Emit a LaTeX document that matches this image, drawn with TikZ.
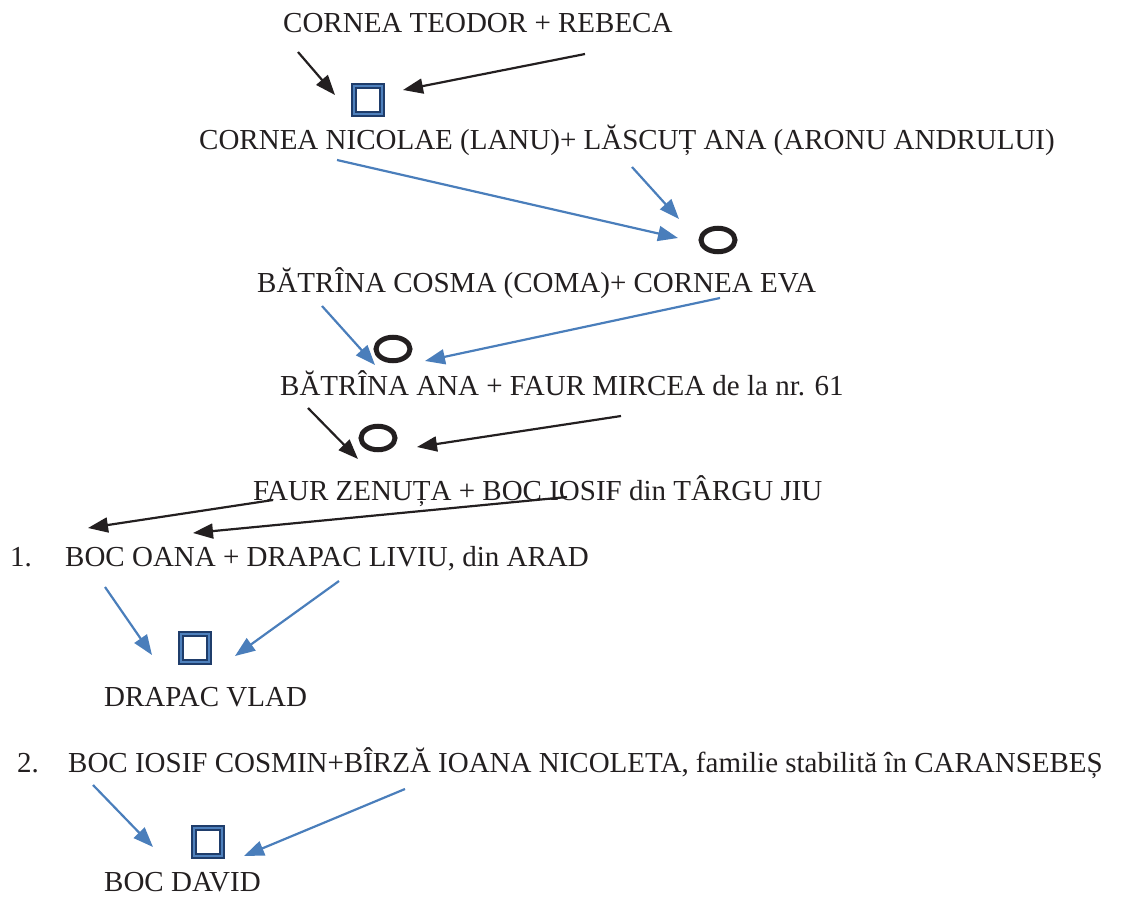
\documentclass[tikz,border=0pt]{standalone}
\usepackage{fontspec}
\setmainfont{Liberation Serif}
\usetikzlibrary{arrows.meta,shapes.geometric}
\definecolor{lineblue}{HTML}{4A7EBB}
\definecolor{navy}{HTML}{1F3D6B}
\definecolor{midblue}{HTML}{4F81BD}
\definecolor{ink}{HTML}{231F20}
\tikzset{
  lbl/.style={anchor=base west,inner sep=0pt,text=ink,text depth=0pt,font=\fontsize{29}{33}\selectfont},
  sq/.style={draw=navy,double=midblue,double distance=1.2pt,line width=2.5pt,fill=white,minimum size=28pt,inner sep=0pt},
  ring/.style={ellipse,draw=ink,line width=5pt,minimum width=34pt,minimum height=23.5pt,inner sep=0pt},
  barr/.style={draw=ink,line width=2.2pt,-{Triangle[length=20pt,width=15pt]}},
  blarr/.style={draw=lineblue,line width=2.2pt,-{Triangle[length=20pt,width=15pt]}},
}
\begin{document}
\begin{tikzpicture}[x=1pt,y=-1pt]
\useasboundingbox (0,0) rectangle (1125,897);
% texts
\node[lbl] (t1) at (283,32) {CORNEA TEODOR + REBECA};
\node[lbl] (t2) at (199,149) {CORNEA NICOLAE (LANU)+ LĂSCUȚ ANA (ARONU ANDRULUI)};
\node[lbl] (t3) at (257,292) {BĂTRÎNA COSMA (COMA)+ CORNEA EVA};
\node[lbl] (t4) at (280,395) {BĂTRÎNA ANA + FAUR MIRCEA de la nr. 61};
\node[lbl] (t5) at (253,500) {FAUR ZENUȚA + BOC IOSIF din TÂRGU JIU};
\node[lbl] (n1) at (10,566) {1.};
\node[lbl] (t6) at (65,566) {BOC OANA + DRAPAC LIVIU, din ARAD};
\node[lbl] (t7) at (104,706) {DRAPAC VLAD};
\node[lbl] (n2) at (17,772) {2.};
\node[lbl] (t8) at (68,772) {BOC IOSIF COSMIN+BÎRZĂ IOANA NICOLETA, familie stabilită în CARANSEBEȘ};
\node[lbl] (t9) at (104,891) {BOC DAVID};
% symbols
\node[sq] (s1) at (368,100) {};
\node[ring] (c1) at (718,240) {};
\node[ring] (c2) at (393,349) {};
\node[ring] (c3) at (378,438) {};
\node[sq] (s2) at (195,648) {};
\node[sq] (s3) at (208,842) {};
% connector ends
\coordinate (a1s) at (298,52);  \coordinate (a1e) at (335,95);
\coordinate (a2s) at (585,54);  \coordinate (a2e) at (403,90);
\coordinate (b1s) at (337,160); \coordinate (b1e) at (678,238);
\coordinate (b2s) at (632,167); \coordinate (b2e) at (679,219);
\coordinate (b3s) at (322,306); \coordinate (b3e) at (375,365);
\coordinate (b4s) at (720,298); \coordinate (b4e) at (425,361);
\coordinate (a3s) at (308,408); \coordinate (a3e) at (358,459);
\coordinate (a4s) at (621,416); \coordinate (a4e) at (417,447);
\coordinate (a5s) at (273,500); \coordinate (a5e) at (88,528);
\coordinate (a6s) at (567,497); \coordinate (a6e) at (193,533);
\coordinate (b5s) at (105,587); \coordinate (b5e) at (152,655);
\coordinate (b6s) at (339,581); \coordinate (b6e) at (235,656);
\coordinate (b7s) at (93,785);  \coordinate (b7e) at (153,847);
\coordinate (b8s) at (405,789); \coordinate (b8e) at (244,856);
% connectors
\draw[barr] (a1s) -- (a1e);
\draw[barr] (a2s) -- (a2e);
\draw[blarr] (b1s) -- (b1e);
\draw[blarr] (b2s) -- (b2e);
\draw[blarr] (b3s) -- (b3e);
\draw[blarr] (b4s) -- (b4e);
\draw[barr] (a3s) -- (a3e);
\draw[barr] (a4s) -- (a4e);
\draw[barr] (a5s) -- (a5e);
\draw[barr] (a6s) -- (a6e);
\draw[blarr] (b5s) -- (b5e);
\draw[blarr] (b6s) -- (b6e);
\draw[blarr] (b7s) -- (b7e);
\draw[blarr] (b8s) -- (b8e);
\end{tikzpicture}
\end{document}
